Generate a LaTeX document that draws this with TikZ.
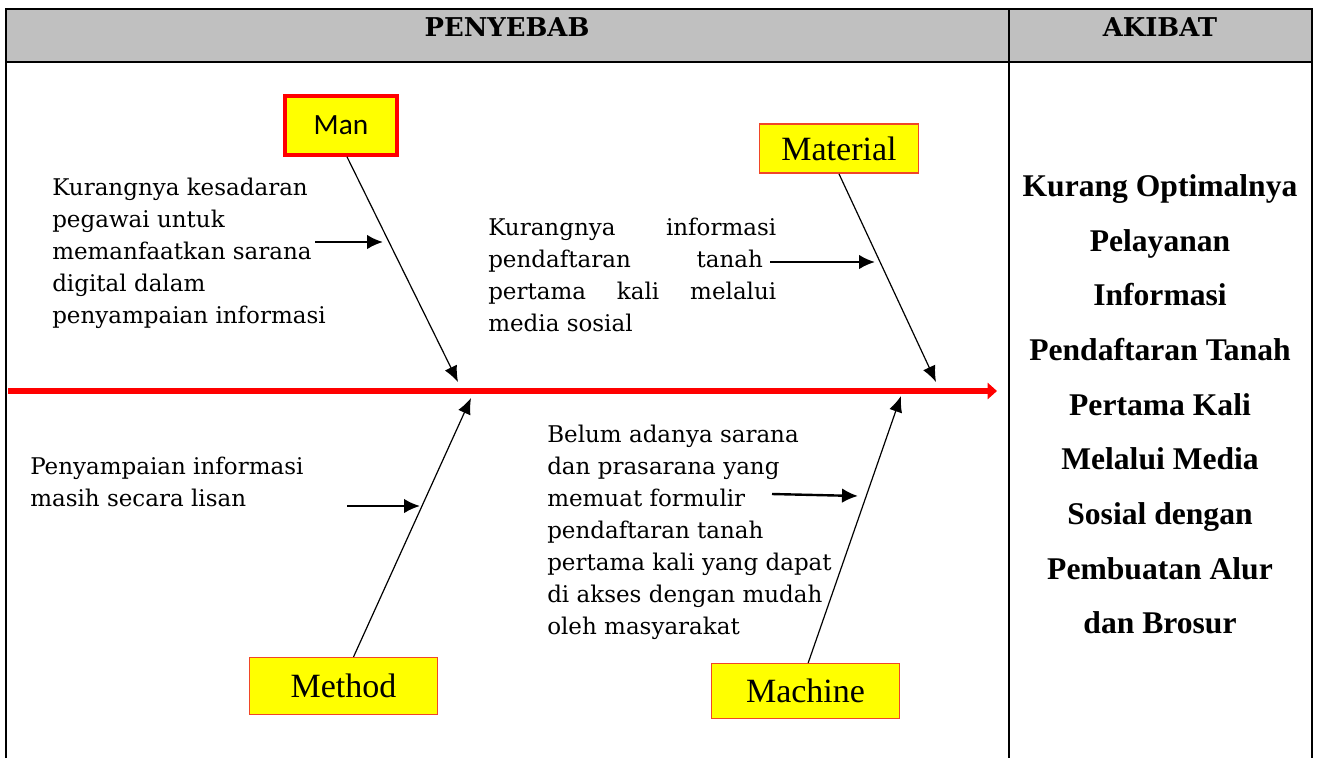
\documentclass[tikz,border=0pt]{standalone}
\usepackage{fontspec}
\setmainfont{DejaVu Serif}
\newfontfamily\timesfont{Liberation Serif}
\newfontfamily\calibrifont{Carlito}
\usepackage{xcolor}
\definecolor{HeadGray}{RGB}{192, 192, 192}
\definecolor{BoneRed}{RGB}{255, 0, 0}
\definecolor{BoxRed}{RGB}{240, 70, 40}
\definecolor{BoxYellow}{RGB}{255, 255, 0}
\usetikzlibrary{arrows.meta}
\newcommand{\spreadline}[2][216pt]{\makebox[#1][s]{#2}}

\begin{document}
\begin{tikzpicture}[
    x=0.75pt,
    y=-0.75pt,
    category/.style={
        rectangle,
        draw=BoxRed,
        fill=BoxYellow,
        line width=1.1pt,
        inner sep=0pt,
        font=\timesfont\fontsize{25.5}{30}\selectfont
    },
    cause/.style={
        anchor=north west,
        inner sep=0pt,
        align=left,
        font=\fontsize{17.25}{24}\selectfont
    },
    bone/.style={
        -{Latex[length=12pt,width=10pt]},
        line width=0.9pt
    },
    subbone/.style={
        -{Latex[length=12pt,width=11pt]},
        line width=1.8pt
    },
    heading/.style={
        font=\bfseries\fontsize{19.4}{23}\selectfont
    }
]

\useasboundingbox (0,0) rectangle (1318,758);

% Table frame
\fill[HeadGray] (6,9) rectangle (1312,62);
\draw[line width=2.2pt] (6,758) -- (6,9) -- (1312,9) -- (1312,758);
\draw[line width=2.2pt] (6,62) -- (1312,62);
\draw[line width=2.2pt] (1009,9) -- (1009,758);

% Headings
\node[heading] (cause) at (507,27) {PENYEBAB};
\node[heading] (akibat) at (1160,27) {AKIBAT};

% Spine
\coordinate (tail) at (8,391);
\coordinate (head) at (997,391);
\draw[BoneRed, line width=5pt, -{Triangle[length=7pt,width=12pt]}] (tail) -- (head);

% Upper left box
\node[category,
      draw=BoneRed,
      line width=3pt,
      minimum width=84pt,
      minimum height=44pt,
      font=\calibrifont\fontsize{22}{26}\selectfont] (man) at (341,125.5)
      {Man};

% Upper right box
\node[category,
      minimum width=119pt,
      minimum height=37pt] (material) at (839,148.5)
      {Material};

% Lower left box
\node[category,
      minimum width=141pt,
      minimum height=42.5pt] (method) at (343.5,686)
      {Method};

% Lower right box
\node[category,
      minimum width=141pt,
      minimum height=41pt] (machine) at (805.5,691)
      {Machine};

% Causes
\node[cause] (manTxt) at (52,178)
      {Kurangnya kesadaran\\pegawai untuk\\memanfaatkan sarana\\digital dalam\\penyampaian informasi};
\node[cause] (materialTxt) at (488,218)
      {\spreadline{Kurangnya informasi}\\\spreadline[206pt]{pendaftaran tanah}\\\spreadline{pertama kali melalui}\\media sosial};
\node[cause] (methodTxt) at (30,457)
      {Penyampaian informasi\\masih secara lisan};
\node[cause] (machineTxt) at (547,425)
      {Belum adanya sarana\\dan prasarana yang\\memuat formulir\\pendaftaran tanah\\pertama kali yang dapat\\di akses dengan mudah\\oleh masyarakat};

% Effect
\node[align=center,
      font=\timesfont\bfseries\fontsize{23.7}{41}\selectfont] (effect) at (1160,404.5)
      {Kurang Optimalnya\\Pelayanan\\Informasi\\Pendaftaran Tanah\\Pertama Kali\\Melalui Media\\Sosial dengan\\Pembuatan Alur\\dan Brosur};

% Bones
\coordinate (manEnd) at (458,382);
\coordinate (materialEnd) at (936,382);
\coordinate (methodEnd) at (471,398);
\coordinate (machineEnd) at (901,396);
\draw[bone] ([xshift=4.5pt]man.south) -- (manEnd);
\draw[bone] (material.south) -- (materialEnd);
\draw[bone] ([xshift=7.5pt]method.north) -- (methodEnd);
\draw[bone] ([xshift=2pt]machine.north) -- (machineEnd);

% Small arrows
\coordinate (manFrom) at (315,242);
\coordinate (manTo) at (383,242);
\coordinate (materialFrom) at (770,262);
\coordinate (materialTo) at (875,262);
\coordinate (methodFrom) at (347,506);
\coordinate (methodTo) at (420,506);
\coordinate (machineFrom) at (772,494);
\coordinate (machineTo) at (858,496);
\draw[subbone] (manFrom) -- (manTo);
\draw[subbone] (materialFrom) -- (materialTo);
\draw[subbone] (methodFrom) -- (methodTo);
\draw[subbone] (machineFrom) -- (machineTo);

\end{tikzpicture}
\end{document}
